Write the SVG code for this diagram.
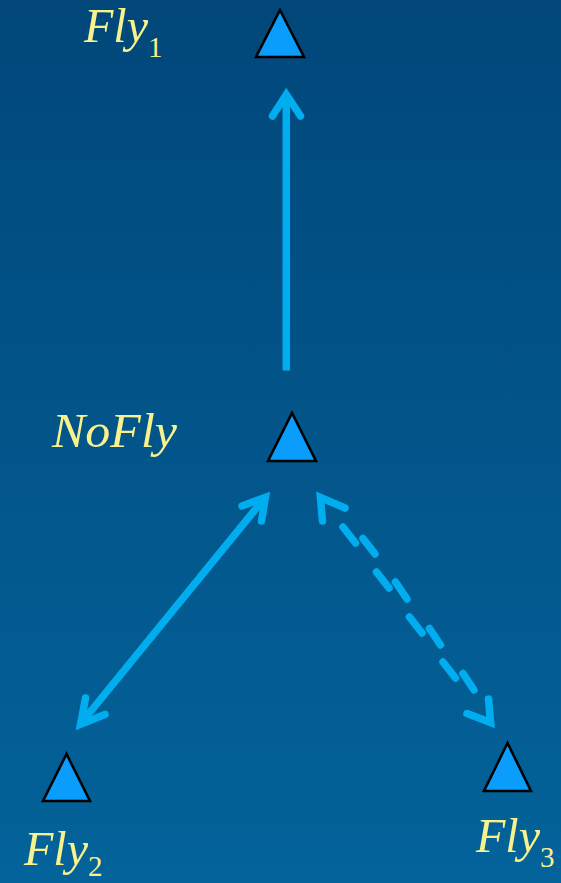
<svg xmlns="http://www.w3.org/2000/svg" width="561" height="883" viewBox="0 0 561 883">
  <defs>
    <linearGradient id="bg" x1="0" y1="0" x2="0" y2="1">
      <stop offset="0" stop-color="#01477a"/>
      <stop offset="1" stop-color="#03639a"/>
    </linearGradient>
  </defs>
  <style>
    .tri { fill: #0a9dfc; stroke: #000000; stroke-width: 2.6; stroke-linejoin: miter; }
    .lbl { font-family: "Liberation Serif", "DejaVu Serif", serif; font-style: italic; fill: #f8f28e; font-size: 48px; }
    .sub { font-family: "Liberation Serif", "DejaVu Serif", serif; font-style: normal; fill: #f8f28e; font-size: 29px; }
    .edge { fill: none; stroke: #00aeef; stroke-width: 7.5; }
    .head { fill: none; stroke: #00aeef; stroke-width: 7.5; stroke-linecap: round; stroke-linejoin: miter; stroke-miterlimit: 10; }
    .dash { fill: none; stroke: #00aeef; stroke-width: 7.5; stroke-linecap: round; }
  </style>
  <rect x="0" y="0" width="561" height="883" fill="url(#bg)"/>

  <g id="connectors">
    <!-- NoFly -> Fly1 -->
    <line class="edge" x1="286.3" y1="370.5" x2="286.3" y2="97"/>
    <polyline class="head" points="272.5,116 286.3,94.5 300.5,116"/>
    <!-- Fly2 <-> NoFly -->
    <line class="edge" x1="82" y1="722" x2="263" y2="500" stroke-linecap="round"/>
    <polyline class="head" points="242,506 265.4,497.4 261.5,521"/>
    <polyline class="head" points="85.5,698 80.6,724.3 105,714.5"/>
    <!-- Fly3 <-> NoFly (dashed zigzag) -->
    <polyline class="head" points="345,508 320.4,497.5 322.5,521"/>
    <polyline class="head" points="467,713.5 490.6,722.5 488.5,699"/>
    <line class="dash" x1="343" y1="527" x2="355.5" y2="543"/>
    <line class="dash" x1="363" y1="538.5" x2="375" y2="554"/>
    <line class="dash" x1="376.5" y1="572" x2="389" y2="588"/>
    <line class="dash" x1="395.5" y1="582" x2="407" y2="599"/>
    <line class="dash" x1="409.5" y1="617" x2="422" y2="633"/>
    <line class="dash" x1="429.5" y1="628.5" x2="440.5" y2="645"/>
    <line class="dash" x1="443" y1="662" x2="455.5" y2="678"/>
    <line class="dash" x1="463" y1="673.5" x2="474" y2="690"/>
  </g>

  <g id="fly1">
    <polygon class="tri" points="280,10 256,57 304,57"/>
    <text class="lbl" x="84" y="42" textLength="64" lengthAdjust="spacingAndGlyphs">Fly</text>
    <text class="sub" x="148" y="57">1</text>
  </g>

  <g id="nofly">
    <polygon class="tri" points="292,413 268,461 316,461"/>
    <text class="lbl" x="52" y="446.5" textLength="125" lengthAdjust="spacingAndGlyphs">NoFly</text>
  </g>

  <g id="fly2">
    <polygon class="tri" points="66.5,754 43,801 90,801"/>
    <text class="lbl" x="24" y="865" textLength="64" lengthAdjust="spacingAndGlyphs">Fly</text>
    <text class="sub" x="88" y="876">2</text>
  </g>

  <g id="fly3">
    <polygon class="tri" points="507.5,743 484,791 531,791"/>
    <text class="lbl" x="476" y="851.5" textLength="64" lengthAdjust="spacingAndGlyphs">Fly</text>
    <text class="sub" x="540" y="866.5">3</text>
  </g>
</svg>
